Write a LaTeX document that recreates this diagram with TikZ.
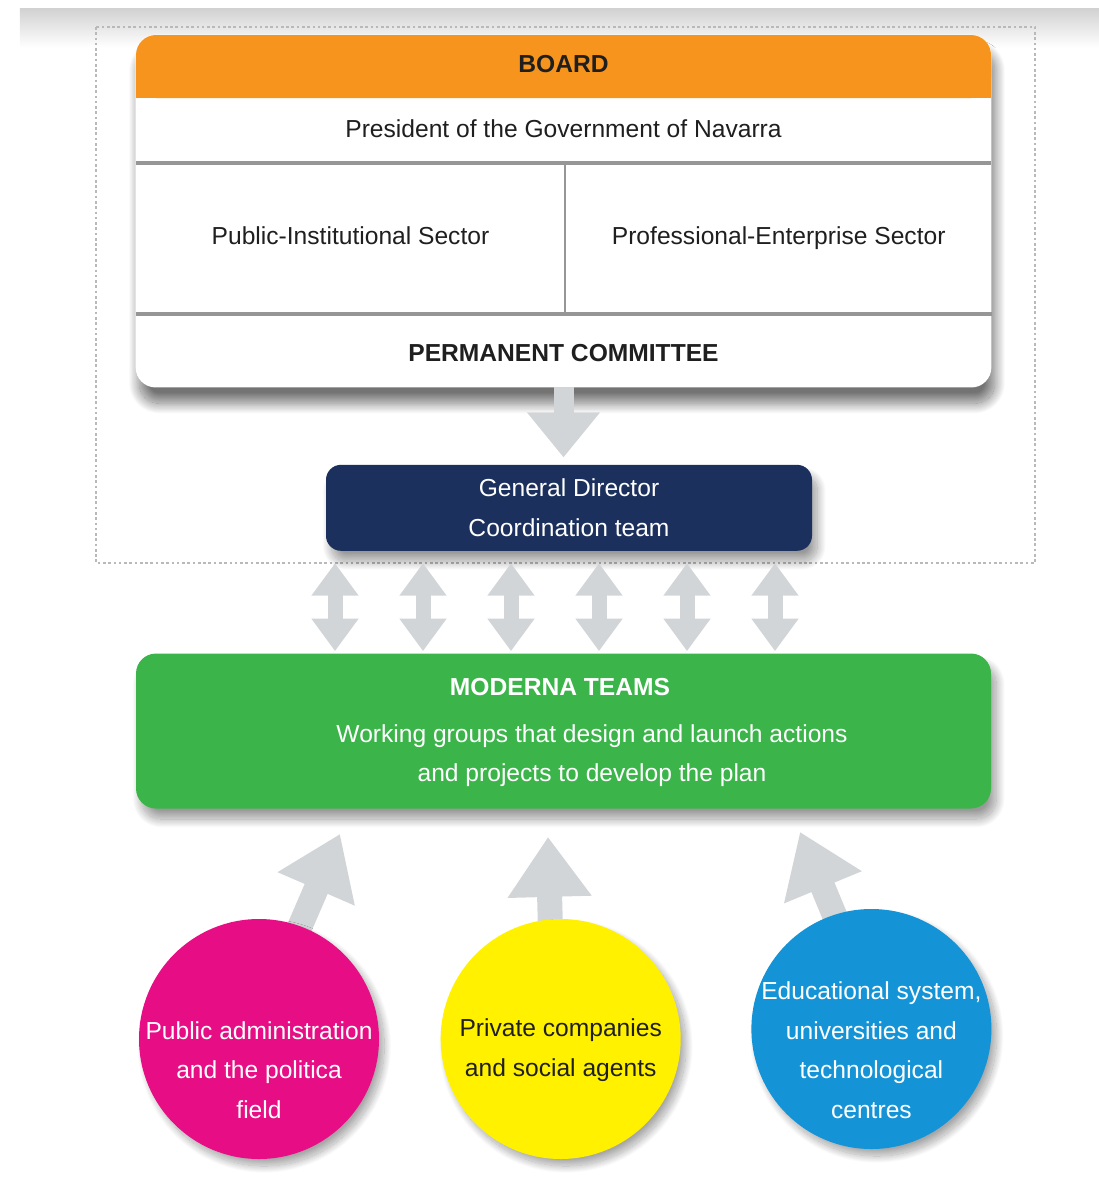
\documentclass[tikz,border=0pt]{standalone}
\usepackage{fontspec}
\setmainfont{Liberation Sans}
\usetikzlibrary{positioning,arrows.meta,shadows.blur,backgrounds,fit}

\definecolor{boardorange}{RGB}{247,148,29}
\definecolor{gdnavy}{RGB}{27,48,92}
\definecolor{teamgreen}{RGB}{59,181,74}
\definecolor{agentpink}{RGB}{231,14,133}
\definecolor{agentyellow}{RGB}{255,241,0}
\definecolor{agentblue}{RGB}{20,148,214}
\definecolor{arrowgray}{RGB}{210,213,215}
\definecolor{rulegray}{RGB}{150,150,150}

\begin{document}
\begin{tikzpicture}[
    node distance=0pt,
    txt/.style={font=\fontsize{14}{22.5}\selectfont, text=black!88, align=center},
    bold/.style={font=\fontsize{14}{22.5}\selectfont\bfseries},
    row/.style={txt, rectangle, minimum width=17.1cm, inner sep=0pt, text height=0.72em, text depth=0pt},
    cell/.style={txt, rectangle, minimum height=3cm, inner sep=0pt, text height=0.72em, text depth=0pt},
    panel/.style={fill=white, rounded corners=0.4cm, inner sep=0pt,
        blur shadow={shadow xshift=2pt, shadow yshift=-9pt, shadow blur radius=6pt, shadow blur steps=24, shadow opacity=55}},
    box/.style={txt, rectangle, rounded corners=0.3cm, text=white, inner sep=0pt,
        blur shadow={shadow xshift=3pt, shadow yshift=-6pt, shadow blur radius=5pt, shadow blur steps=24, shadow opacity=40}},
    agent/.style={circle, minimum size=4.8cm, inner sep=0pt,
        blur shadow={shadow xshift=3pt, shadow yshift=-4pt, shadow blur radius=4pt, shadow blur steps=24, shadow opacity=35}},
    rule/.style={draw=rulegray, line width=2pt},
    arrow/.style={draw=arrowgray, line width=0.4cm, -{Triangle[width=1.4cm,length=0.9cm]}},
    link/.style={draw=arrowgray, line width=0.3cm, {Triangle[width=0.9cm,length=0.65cm]}-{Triangle[width=0.9cm,length=0.65cm]}},
    feed/.style={draw=arrowgray, line width=0.5cm, -{Triangle[width=1.6cm,length=1.2cm]}}
]
    \useasboundingbox (0,0) rectangle (21.98,-23.72);

    % dotted frame round board and director
    \draw[gray!55, line width=0.8pt, dash pattern=on 1.5pt off 1.5pt] (1.92,-0.54) rectangle (20.70,-11.26);

    % Board
    \node[row, bold, fill=boardorange, rounded corners=0.4cm, minimum height=1.26cm] (board) at (11.27,-1.33) {BOARD};
    \node[row, below=of board, minimum height=1.28cm] (pres) {President of the Government of Navarra};
    \node[cell, anchor=north west, minimum width=8.58cm] (pubsec) at (pres.south west) {Public-Institutional Sector};
    \node[cell, right=of pubsec, minimum width=8.52cm] (prosec) {Professional-Enterprise Sector};
    \node[row, bold, anchor=north west, minimum height=1.46cm, text height=1.25em] (perm) at (pubsec.south west) {PERMANENT COMMITTEE};

    \draw[rule] (pres.south west) -- (pres.south east);
    \draw[rule] (pubsec.south west) -- (prosec.south east);
    \draw[rule, line width=1.2pt] (pubsec.north east) -- (pubsec.south east);

    % Director
    \node[box, fill=gdnavy, minimum width=9.72cm, minimum height=1.72cm, below=1.54cm of perm, xshift=0.11cm] (gd) {General Director\\Coordination team};

    % Moderna teams
    \node[box, fill=teamgreen, rounded corners=0.4cm, minimum width=17.1cm, minimum height=3.1cm, below=2.04cm of gd, xshift=-0.11cm] (mod) {};
    \node[txt, bold, text=white] (modtitle) at ([xshift=-0.07cm, yshift=0.88cm]mod.center) {MODERNA TEAMS};
    \node[txt, text=white] (moddesc) at ([xshift=0.57cm, yshift=-0.49cm]mod.center) {Working groups that design and launch actions\\and projects to develop the plan};

    % Agents
    \node[agent, fill=agentpink] (pub) at (5.18,-20.78) {};
    \node[agent, fill=agentyellow, right=1.22cm of pub] (priv) {};
    \node[agent, fill=agentblue, right=1.4cm of priv, yshift=0.2cm] (edu) {};
    \node[txt, text=white] (pubtxt) at ([yshift=-0.62cm]pub.center) {Public administration\\and the politica\\field};
    \node[txt] (privtxt) at ([yshift=-0.22cm]priv.center) {Private companies\\and social agents};
    \node[txt, text=white] (edutxt) at ([yshift=-0.42cm]edu.center) {Educational system,\\universities and\\technological\\centres};

    % Arrows
    \draw[arrow, shorten >=0.14cm] (perm.south) -- (perm.south |- gd.north);
    \foreach \x [count=\i] in {6.70,8.46,10.22,11.98,13.74,15.50} {
        \coordinate (col\i) at (\x,0);
        \draw[link, shorten <=0.24cm, shorten >=0.04cm] (col\i |- gd.south) -- (col\i |- mod.north);
    }
    \coordinate (pubtip) at ([xshift=-4.47cm, yshift=-0.5cm]mod.south);
    \coordinate (privtip) at ([xshift=-0.31cm, yshift=-0.56cm]mod.south);
    \coordinate (edutip) at ([xshift=4.73cm, yshift=-0.46cm]mod.south);

    \begin{scope}[on background layer]
        \draw[feed, shorten <=-0.4cm] (pub.70) -- (pubtip);
        \draw[feed, shorten <=-0.4cm] (priv.95) -- (privtip);
        \draw[feed, shorten <=-0.4cm] (edu.108) -- (edutip);
        % haze along the top
        \shade[top color=black!18, bottom color=white] (0.4,-0.16) rectangle (21.98,-0.95);
        \node[panel, fit=(board)(perm)] (frame) {};
        \fill[boardorange] (board.west) rectangle (board.south east);
    \end{scope}
\end{tikzpicture}
\end{document}
